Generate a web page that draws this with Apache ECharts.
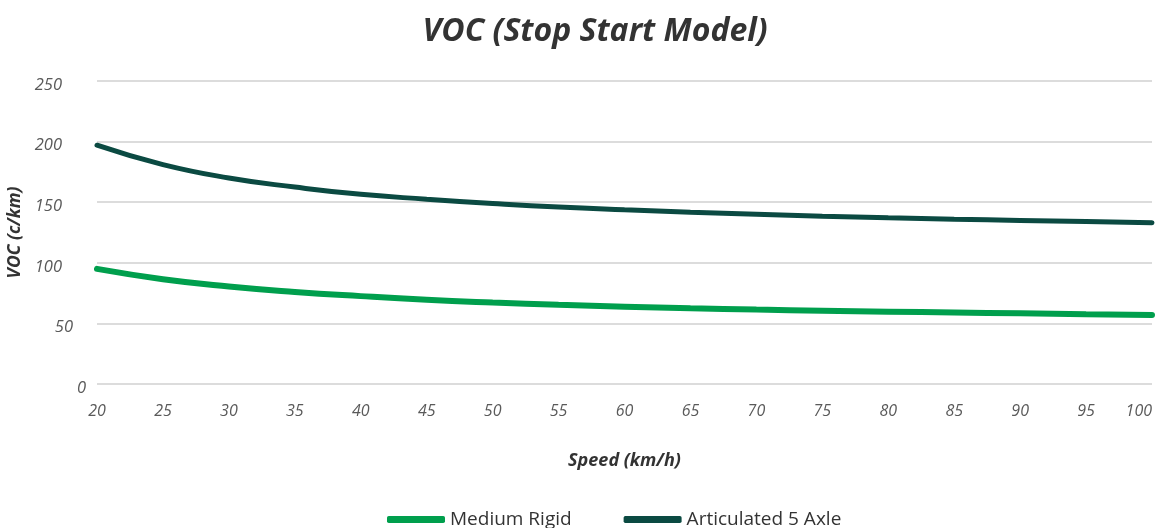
<!DOCTYPE html>
<html>
<head>
<meta charset="utf-8">
<script src="https://cdn.jsdelivr.net/npm/echarts@6/dist/echarts.min.js"></script>
<style>
html,body{margin:0;padding:0;background:#fff;}
#chart{width:1158px;height:528px;}
</style>
</head>
<body>
<div id="chart"></div>
<script>
// speed (km/h)
var speeds = [20,25,30,35,40,45,50,55,60,65,70,75,80,85,90,95,100];
// VOC values (c/km)
var mediumRigid = [95,86.5,80.5,76,72.5,69.5,67.2,65.3,63.8,62.5,61.4,60.5,59.7,59,58.3,57.6,57];
var articulated5 = [197,181,170,162.5,156.5,152.5,149,146,143.7,141.7,140,138.4,137.1,136,135,134,133];

var seriesNames = ["Medium Rigid","Articulated 5 Axle"];
var seriesColors = ["#009F4D","#0B4A42"];

function pairs(vals){
    var out = [];
    for (var i=0;i<speeds.length;i++){
        out.push([speeds[i],vals[i]]);
    }
    return out;
}

var fontFam = "'Open Sans', sans-serif";
var lblColor = "#5a5a5a";

var option = {
    animation:false,
    title:{
        text:"VOC (Stop Start Model)",
        left:590,
        textAlign:"center",
        top:11,
        textStyle:{
            fontFamily:fontFam,
            fontSize:32,
            fontWeight:"bold",
            fontStyle:"italic",
            color:"#333"
        }
    },
    legend:{
        bottom:-6,
        left:382,
        itemWidth:58,
        itemHeight:7,
        itemGap:52,
        icon:"roundRect",
        textStyle:{
            fontFamily:fontFam,
            fontSize:19,
            color:"#333"
        },
        data:seriesNames
    },
    grid:{
        left:97,
        right:6,
        top:81,
        bottom:144,
        outerBoundsMode:"none"
    },
    xAxis:{
        type:"value",
        min:20,
        max:100,
        interval:5,
        name:"Speed (km/h)",
        nameLocation:"middle",
        nameGap:68,
        nameTextStyle:{
            fontFamily:fontFam,
            fontSize:18,
            fontWeight:"bold",
            fontStyle:"italic",
            color:"#333"
        },
        axisLine:{show:false},
        axisTick:{show:false},
        splitLine:{show:false},
        axisLabel:{
            margin:19,
            alignMaxLabel:"right",
            fontFamily:fontFam,
            fontSize:16,
            fontStyle:"italic",
            color:lblColor
        }
    },
    yAxis:{
        type:"value",
        min:0,
        max:250,
        interval:50,
        name:"VOC (c/km)",
        nameLocation:"middle",
        nameGap:65,
        nameTextStyle:{
            fontFamily:fontFam,
            fontSize:17.5,
            fontWeight:"bold",
            fontStyle:"italic",
            color:"#333"
        },
        axisLine:{show:false},
        axisTick:{show:false},
        splitLine:{lineStyle:{color:"#dcdcdc",width:2}},
        axisLabel:{
            margin:11,
            formatter:function(v){
                if (v >= 100) return "{a|" + v + "}";
                if (v == 50) return "{b|" + v + "}";
                return "{c|" + v + "}";
            },
            rich:{
                a:{fontFamily:fontFam,fontSize:16.5,fontStyle:"italic",color:lblColor,padding:[8,24,0,0]},
                b:{fontFamily:fontFam,fontSize:16.5,fontStyle:"italic",color:lblColor,padding:[8,13,0,0]},
                c:{fontFamily:fontFam,fontSize:16.5,fontStyle:"italic",color:lblColor,padding:[8,0,0,0]}
            }
        }
    },
    series:[
        {
            name:seriesNames[0],
            type:"line",
            smooth:true,
            symbol:"none",
            data:pairs(mediumRigid),
            color:seriesColors[0],
            lineStyle:{width:6,color:seriesColors[0],cap:"round"}
        },
        {
            name:seriesNames[1],
            type:"line",
            smooth:true,
            symbol:"none",
            data:pairs(articulated5),
            color:seriesColors[1],
            lineStyle:{width:5,color:seriesColors[1],cap:"round"}
        }
    ]
};

var myChart = echarts.init(document.getElementById("chart"));
myChart.setOption(option);
</script>
</body>
</html>
